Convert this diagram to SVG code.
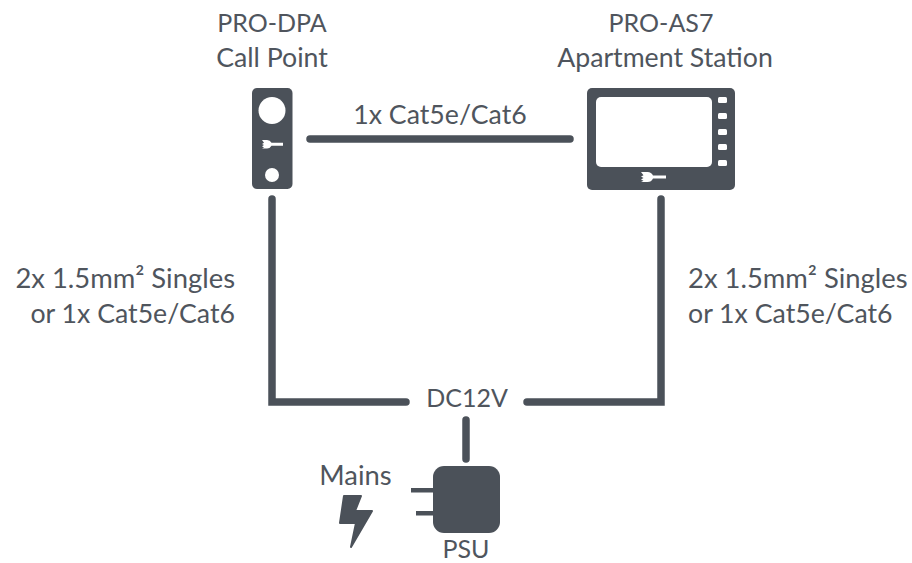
<svg xmlns="http://www.w3.org/2000/svg" width="912" height="563" viewBox="0 0 912 563">
<style>
text{font-family:"Lato","Open Sans","Liberation Sans",sans-serif;font-size:26.7px;fill:#4f555d;text-anchor:middle}
.e{text-anchor:end}.s{text-anchor:start}.t{font-size:25px}.b{font-size:27.4px}
.w{fill:none;stroke:#4b5159;stroke-width:7.5;stroke-linecap:round;stroke-linejoin:miter}
.d{fill:#4b5159}.l{fill:#fff}
</style>
<rect width="912" height="563" fill="#fff"/>
<g id="connectors">
<path class="w" d="M310 139H570"/>
<path class="w" d="M272 199V402H406"/>
<path class="w" d="M661 199V402H527"/>
<path class="w" d="M466 420V459"/>
</g>
<g id="call-point">
<text class="t" x="272" y="32">PRO-DPA</text><text x="272" y="67">Call Point</text>
<rect class="d" x="252" y="88" width="40.500" height="101" rx="5"/>
<circle class="l" cx="272" cy="110.500" r="13.500"/>
<circle class="l" cx="272" cy="175" r="7"/>
<path class="l" d="M262 140h5a5 5 0 0 1 4.500 2.700H283v3h-11.500a5 5 0 0 1-4.500 2.700h-5l2-1-2-1.200 2-1.100-2-1.100 2-1.200z"/>
</g>
<g id="apartment-station">
<text class="t" x="661" y="32">PRO-AS7</text><text x="665" y="67">Apartment Station</text>
<rect class="d" x="587" y="88" width="148" height="102" rx="5"/>
<rect class="l" x="596" y="97" width="116" height="70" rx="5"/>
<rect class="l" x="718" y="97" width="9" height="6" rx="1.500"/>
<rect class="l" x="718" y="113" width="9" height="6" rx="1.500"/>
<rect class="l" x="718" y="129" width="9" height="6" rx="1.500"/>
<rect class="l" x="718" y="144" width="9" height="6" rx="1.500"/>
<rect class="l" x="718" y="160" width="9" height="6" rx="1.500"/>
<path class="l" d="M641 172h6.500a6 6 0 0 1 5.500 3.500H666v3h-13a6 6 0 0 1-5.500 3.500H641l2.500-1.200-2.500-1.400 2.500-1.400-2.500-1.400 2.500-1.400z"/>
</g>
<g id="psu">
<rect class="d" x="433" y="466" width="67" height="67" rx="11"/>
<rect class="d" x="411" y="488" width="24" height="4.500"/>
<rect class="d" x="416" y="511" width="19" height="4.500"/>
<text class="t" x="466" y="558">PSU</text>
</g>
<g id="mains">
<text class="b" x="355.500" y="485">Mains</text>
<path class="d" d="M344 496H361L355 511H372L351 547L356 523H340Z" stroke="#4b5159" stroke-width="2" stroke-linejoin="round"/>
</g>
<g id="labels">
<text x="440" y="124">1x Cat5e/Cat6</text>
<text class="e b" x="235" y="288">2x 1.5mm² Singles</text><text class="e" x="235" y="323">or 1x Cat5e/Cat6</text>
<text class="s b" x="688" y="288">2x 1.5mm² Singles</text><text class="s" x="688" y="323">or 1x Cat5e/Cat6</text>
<text class="t" x="467" y="407">DC12V</text>
</g>
</svg>
